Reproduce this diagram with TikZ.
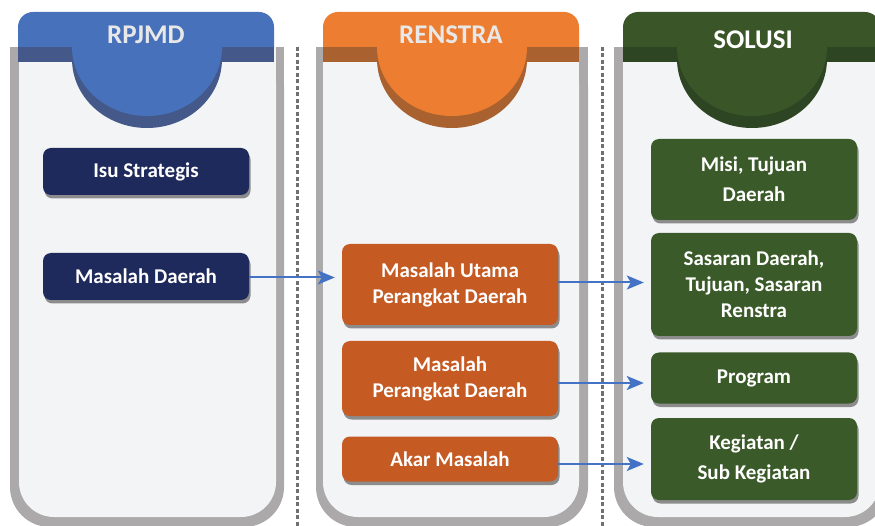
\documentclass[tikz,border=0pt]{standalone}
\usepackage{fontspec}
\setmainfont{Carlito}
\usetikzlibrary{positioning,arrows.meta,shadows,calc}

\definecolor{panelgray}{HTML}{ABA9A9}
\definecolor{panelfill}{HTML}{F3F4F6}
\definecolor{blueh}{HTML}{4771BA}
\definecolor{bluedark}{HTML}{44598A}
\definecolor{orangeh}{HTML}{ED7D31}
\definecolor{orangedark}{HTML}{A9622F}
\definecolor{greenh}{HTML}{3A5628}
\definecolor{greendark}{HTML}{2E4523}
\definecolor{navybox}{HTML}{1F2A5C}
\definecolor{orangebox}{HTML}{C55A23}
\definecolor{greenbox}{HTML}{3B5A29}
\definecolor{boxshade}{HTML}{8C8C8C}
\definecolor{linkblue}{HTML}{4472C4}
\definecolor{divgray}{HTML}{707070}
\definecolor{headtxt}{HTML}{E8E8E8}

\newcommand{\boxfont}{\fontsize{21}{26}\selectfont\bfseries}
\newcommand{\loosefont}{\fontsize{21}{30}\selectfont\bfseries}

\tikzset{
  headtext/.style={text=headtxt, font=\fontsize{27}{30}\selectfont\bfseries},
  box/.style={rounded corners=8pt, inner sep=0pt, align=center, text=white,
    font=\boxfont, minimum height=47pt,
    drop shadow={shadow xshift=1.5pt, shadow yshift=-3.5pt, fill=boxshade, opacity=1}},
  rpjmdbox/.style={box, fill=navybox, minimum width=206pt},
  renstrabox/.style={box, fill=orangebox, minimum width=216pt},
  solusibox/.style={box, fill=greenbox, minimum width=206pt},
  link/.style={draw=linkblue, line width=2pt, shorten >=7pt,
    -{Stealth[length=17pt,width=14pt,inset=4pt]}},
  divider/.style={draw=divgray, line width=3pt, dash pattern=on 4pt off 2.5pt}
}

% panel body: gray rim and light inside
\newcommand{\panelbody}[4]{%
  \fill[panelgray, rounded corners=40pt] (#1,47) rectangle (#2,527);
  \fill[panelgray] (#1,47) rectangle (#2,120);
  \fill[panelfill, rounded corners=35pt] (#3,47) rectangle (#4,517);
  \fill[panelfill] (#3,47) rectangle (#4,120);
}
% panel head: tab with half disc
\newcommand{\panelhead}[5]{%
  \fill[#4, rounded corners=15pt] (#1,12) rectangle (#2,62);
  \fill[#4] (#1,35) rectangle (#2,62);
  \fill[#5] (#1,47) rectangle (#2,62);
  \begin{scope}
    \clip (#1,47) rectangle (#2,200);
    \fill[#5] (#3,59) ellipse [x radius=75, y radius=69];
    \fill[#4] (#3,47) ellipse [x radius=75, y radius=69];
  \end{scope}
}

\begin{document}
\begin{tikzpicture}[x=1pt, y=-1pt]
  \useasboundingbox (0,0) rectangle (875,526);

  \panelbody{10}{284}{19}{276}
  \panelbody{316}{588}{323}{579}
  \panelbody{614}{888}{623}{880}

  \panelhead{18}{274}{147}{blueh}{bluedark}
  \panelhead{323}{579}{452}{orangeh}{orangedark}
  \panelhead{623}{880}{752}{greenh}{greendark}

  \node[headtext] (rpjmd) at (146,35) {RPJMD};
  \node[headtext] (renstra) at (451,35) {RENSTRA};
  \node[headtext, text=white] (solusi) at (753,40) {SOLUSI};

  \coordinate (d1top) at (297,47);
  \coordinate (d1bot) at (297,526);
  \coordinate (d2top) at (602,47);
  \coordinate (d2bot) at (602,526);
  \draw[divider] (d1top) -- (d1bot);
  \draw[divider] (d2top) -- (d2bot);

  % RPJMD
  \node[rpjmdbox] (isu) at (146,171.5) {Isu Strategis};
  \node[rpjmdbox] (md) at (146,276.5) {Masalah Daerah};

  % RENSTRA
  \node[renstrabox, minimum height=81pt] (mu) at (450,284.5) {Masalah Utama\\Perangkat Daerah};
  \node[renstrabox, minimum height=75pt] (mp) at (450,378.5) {Masalah\\Perangkat Daerah};
  \node[renstrabox, minimum height=45pt] (ak) at (450,459) {Akar Masalah};

  % SOLUSI
  \node[solusibox, minimum height=81pt, font=\loosefont] (misi) at (754,179.5) {Misi, Tujuan\\Daerah};
  \node[solusibox, minimum height=103pt] (sa) at (754,284.5) {Sasaran Daerah,\\Tujuan, Sasaran\\Renstra};
  \node[solusibox, minimum height=51pt] (pr) at (754,378) {Program};
  \node[solusibox, minimum height=82pt, font=\loosefont] (kg) at (754,459) {Kegiatan /\\Sub Kegiatan};

  \draw[link] ([yshift=-1pt]md.east) -- ([yshift=-1pt]md.east -| mu.west);
  \draw[link] ([yshift=2pt]mu.east) -- ([yshift=2pt]mu.east -| sa.west);
  \draw[link] ([yshift=-4.5pt]mp.east) -- ([yshift=-4.5pt]mp.east -| pr.west);
  \draw[link] ([yshift=-5pt]ak.east) -- ([yshift=-5pt]ak.east -| kg.west);
\end{tikzpicture}
\end{document}
